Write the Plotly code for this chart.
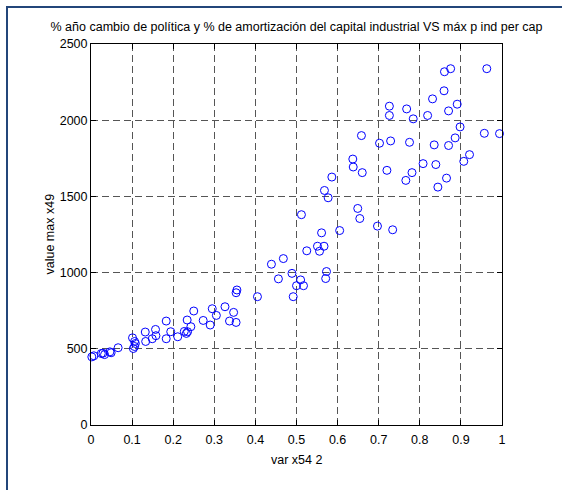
import plotly.graph_objects as go

x_vals = [0.002, 0.007, 0.025, 0.029, 0.033, 0.046, 0.049, 0.066, 0.101, 0.106,
          0.108, 0.103, 0.106, 0.132, 0.133, 0.149, 0.157, 0.158, 0.183, 0.183,
          0.194, 0.211, 0.234, 0.243, 0.232, 0.227, 0.235, 0.250, 0.273, 0.290,
          0.295, 0.305, 0.326, 0.337, 0.347, 0.353, 0.353, 0.355, 0.405, 0.439,
          0.456, 0.468, 0.489, 0.492, 0.500, 0.510, 0.517, 0.512, 0.525, 0.551,
          0.556, 0.561, 0.567, 0.573, 0.571, 0.568, 0.577, 0.586, 0.605, 0.649,
          0.654, 0.637, 0.638, 0.660, 0.658, 0.697, 0.734, 0.720, 0.702, 0.729,
          0.775, 0.726, 0.726, 0.768, 0.784, 0.819, 0.831, 0.859, 0.860, 0.875,
          0.963, 0.870, 0.891, 0.898, 0.957, 0.994, 0.886, 0.870, 0.835, 0.808,
          0.839, 0.921, 0.907, 0.865, 0.844, 0.766, 0.781]
y_vals = [447, 454, 469, 471, 462, 480, 474, 507, 572, 548,
          535, 502, 515, 610, 548, 566, 627, 586, 682, 566,
          612, 579, 689, 645, 601, 614, 612, 748, 686, 656,
          763, 719, 776, 682, 739, 673, 868, 886, 842, 1055,
          959, 1092, 995, 842, 914, 952, 914, 1380, 1143, 1173,
          1140, 1261, 1173, 1007, 961, 1539, 1491, 1627, 1276, 1421,
          1355, 1745, 1693, 1656, 1899, 1305, 1281, 1671, 1849, 1864,
          1855, 2092, 2031, 2074, 2009, 2031, 2140, 2193, 2318, 2338,
          2338, 2061, 2105, 1956, 1914, 1912, 1884, 1834, 1838, 1715,
          1709, 1774, 1730, 1620, 1561, 1605, 1656]

title_text = "% año cambio de política y % de amortización del capital industrial VS máx p ind per cap"
x_label = "var x54 2"
y_label = "value max x49"
x_ticks = [0, 0.1, 0.2, 0.3, 0.4, 0.5, 0.6, 0.7, 0.8, 0.9, 1]
x_ticktext = ["0", "0.1", "0.2", "0.3", "0.4", "0.5", "0.6", "0.7", "0.8", "0.9", "1"]
y_ticks = [0, 500, 1000, 1500, 2000, 2500]

fig = go.Figure()
fig.add_trace(go.Scatter(
    x=x_vals, y=y_vals, mode="markers",
    marker=dict(symbol="circle-open", size=8, color="#0000ff", line=dict(width=1, color="#0000ff")),
    showlegend=False, cliponaxis=False, hoverinfo="skip",
))

font_family = "Liberation Sans, Arial, Helvetica, sans-serif"
FS = 12.5
L, R, T, B = 91, 60, 44, 65
W, H = 562, 490
pw, ph = W - L - R, H - T - B

axis_common = dict(
    showline=True, linecolor="black", linewidth=1, mirror="allticks",
    ticks="inside", ticklen=5, tickcolor="black", tickwidth=1,
    showgrid=True, gridcolor="#555555", gridwidth=1, griddash="7px,4px",
    zeroline=False, tickfont=dict(size=FS, color="black", family=font_family),
)

fig.update_xaxes(range=[0, 1], tickvals=x_ticks, ticktext=x_ticktext,
                 ticklabelstandoff=3, **axis_common)
fig.update_yaxes(range=[0, 2500], tickvals=y_ticks, **axis_common)

def px2paper_x(px):
    return (px - L) / pw

def px2paper_y(py):
    return (H - B - py) / ph

fig.add_annotation(text=x_label, xref="paper", yref="paper",
                   x=px2paper_x(296.5), y=px2paper_y(460), xanchor="center", yanchor="middle",
                   showarrow=False, font=dict(size=FS, color="black", family=font_family))
fig.add_annotation(text=y_label, xref="paper", yref="paper", textangle=-90,
                   x=px2paper_x(49), y=px2paper_y(234.5), xanchor="center", yanchor="middle",
                   showarrow=False, font=dict(size=FS, color="black", family=font_family))

border_color = "#23467a"
fig.add_shape(type="line", xref="paper", yref="paper",
              x0=px2paper_x(7), x1=px2paper_x(7), y0=px2paper_y(6), y1=px2paper_y(492),
              line=dict(color=border_color, width=2))
fig.add_shape(type="line", xref="paper", yref="paper",
              x0=px2paper_x(6), x1=px2paper_x(565), y0=px2paper_y(7), y1=px2paper_y(7),
              line=dict(color=border_color, width=2))

fig.update_layout(
    width=W, height=H,
    margin=dict(l=L, r=R, t=T, b=B, pad=0),
    paper_bgcolor="white", plot_bgcolor="white",
    font=dict(family=font_family, size=FS, color="black"),
    title=dict(text=title_text, x=(L + pw / 2) / W, xanchor="center",
               y=1 - 27 / H, yanchor="middle",
               font=dict(size=FS, color="black", family=font_family)),
    hovermode=False,
)

fig.write_html("out.html", config={"displayModeBar": False, "staticPlot": True},
               post_script="document.body.style.margin='0';document.body.style.overflow='hidden';")
